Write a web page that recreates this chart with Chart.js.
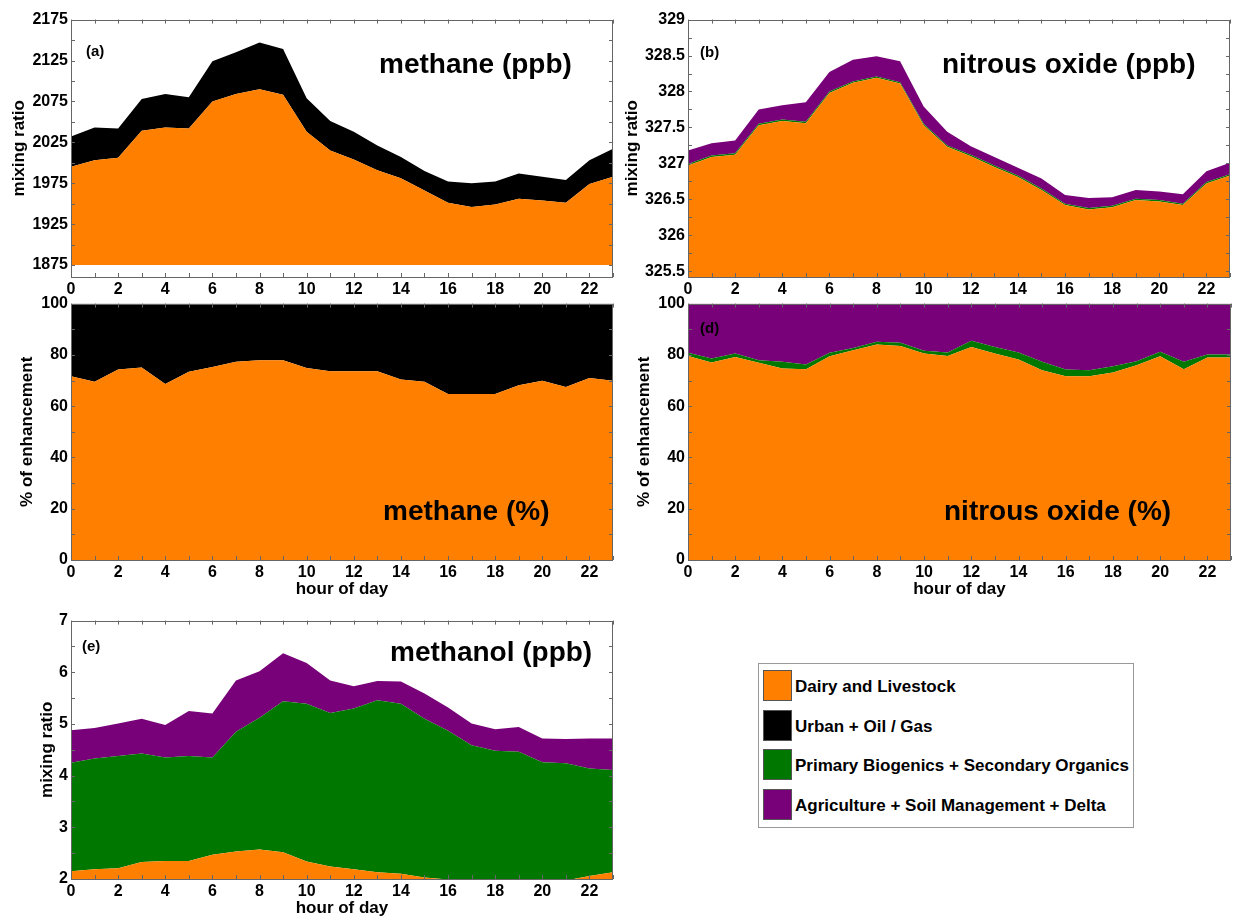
<!DOCTYPE html>
<html>
<head>
<meta charset="utf-8">
<script src="https://cdn.jsdelivr.net/npm/chart.js@4.4.1/dist/chart.umd.min.js"></script>
<style>
body { margin: 0; background: #fff; width: 1233px; height: 917px; position: relative; overflow: hidden;
       font-family: "Liberation Sans", Arial, sans-serif; }
canvas { position: absolute; }
.note { position: absolute; font-weight: bold; color: #000; white-space: nowrap; line-height: 1; }
.big { font-size: 28px; }
.tag { font-size: 15px; }
#legend { position: absolute; left: 758px; top: 663px; width: 374px; height: 163px; border: 1px solid #999; }
.sw { position: absolute; left: 4px; width: 27px; height: 29px; border: 1px solid #555; }
.lt { position: absolute; left: 36px; font-size: 17px; font-weight: bold; line-height: 1; }
</style>
</head>
<body>
<canvas id="pa"></canvas>
<canvas id="pb"></canvas>
<canvas id="pc"></canvas>
<canvas id="pd"></canvas>
<canvas id="pe"></canvas>

<div class="note tag" style="left:86px;top:43px">(a)</div>
<div class="note big" style="left:379px;top:50px">methane (ppb)</div>
<div class="note tag" style="left:700px;top:44px">(b)</div>
<div class="note big" style="left:942px;top:50px">nitrous oxide (ppb)</div>
<div class="note tag" style="left:82px;top:320px">(c)</div>
<div class="note big" style="left:383px;top:497px">methane (%)</div>
<div class="note tag" style="left:700px;top:320px">(d)</div>
<div class="note big" style="left:944px;top:497px">nitrous oxide (%)</div>
<div class="note tag" style="left:82px;top:638px">(e)</div>
<div class="note big" style="left:390px;top:638px">methanol (ppb)</div>

<div id="legend"></div>

<script>
// hour of day
const hours = [0, 1, 2, 3, 4, 5, 6, 7, 8, 9, 10, 11, 12, 13, 14, 15, 16, 17, 18, 19, 20, 21, 22, 23];
const hourTicks = [0, 2, 4, 6, 8, 10, 12, 14, 16, 18, 20, 22];

// source names and colours
const sources = ['Dairy and Livestock', 'Urban + Oil / Gas', 'Primary Biogenics + Secondary Organics', 'Agriculture + Soil Management + Delta'];
const colors = ['#ff8000', '#000000', '#007800', '#780078'];

// (a) methane, ppb (upper edge of each layer)
const ch4Dairy = [1995, 2003, 2006, 2039, 2043, 2042, 2075, 2084, 2090, 2083, 2038, 2015, 2004, 1991, 1981, 1966, 1951, 1946, 1949, 1956, 1954, 1951, 1974, 1983];
const ch4Total = [2032, 2043, 2042, 2078, 2084, 2080, 2124, 2135, 2147, 2139, 2079, 2051, 2038, 2021, 2007, 1990, 1977, 1975, 1977, 1987, 1983, 1979, 2003, 2017];
const ch4Ticks = [1875, 1925, 1975, 2025, 2075, 2125, 2175];

// (b) nitrous oxide, ppb
const n2oDairy = [326.97, 327.09, 327.12, 327.53, 327.59, 327.56, 327.98, 328.12, 328.19, 328.11, 327.53, 327.23, 327.10, 326.95, 326.81, 326.63, 326.42, 326.36, 326.39, 326.49, 326.47, 326.42, 326.72, 326.83];
const n2oBio = [326.99, 327.11, 327.14, 327.55, 327.61, 327.58, 328.00, 328.14, 328.21, 328.13, 327.55, 327.25, 327.12, 326.97, 326.83, 326.65, 326.44, 326.38, 326.41, 326.51, 326.49, 326.44, 326.74, 326.85];
const n2oTotal = [327.18, 327.28, 327.32, 327.75, 327.81, 327.85, 328.27, 328.44, 328.49, 328.42, 327.79, 327.44, 327.24, 327.09, 326.94, 326.79, 326.56, 326.52, 326.53, 326.63, 326.61, 326.57, 326.89, 327.01];
const n2oTicks = [325.5, 326, 326.5, 327, 327.5, 328, 328.5, 329];

// (c) methane, % of enhancement
const ch4PctDairy = [71.7, 69.5, 74.3, 75.1, 68.6, 73.4, 75.3, 77.3, 77.9, 77.9, 74.9, 73.6, 73.6, 73.6, 70.4, 69.5, 64.7, 64.7, 64.7, 68.2, 69.9, 67.5, 71.0, 69.9];

// (d) nitrous oxide, % of enhancement
const n2oPctDairy = [79.6, 77.0, 79.2, 76.9, 74.7, 74.4, 79.5, 81.8, 84.0, 83.5, 80.5, 79.6, 83.1, 80.5, 78.2, 74.0, 71.7, 71.7, 73.1, 76.0, 79.5, 74.4, 79.0, 79.0];
const n2oPctBio = [80.8, 78.6, 80.5, 77.9, 77.3, 76.2, 80.8, 82.7, 85.1, 84.7, 81.6, 80.9, 85.5, 83.1, 80.9, 77.3, 74.3, 74.0, 75.6, 77.5, 81.2, 77.3, 80.1, 80.1];
const pctTicks = [0, 20, 40, 60, 80, 100];

// (e) methanol, ppb
const meohDairy = [2.15, 2.19, 2.21, 2.33, 2.35, 2.35, 2.47, 2.53, 2.57, 2.52, 2.34, 2.24, 2.19, 2.13, 2.10, 2.03, 1.99, 1.97, 1.97, 1.99, 1.99, 1.97, 2.06, 2.13];
const meohBio = [4.25, 4.33, 4.38, 4.43, 4.35, 4.38, 4.35, 4.85, 5.12, 5.44, 5.39, 5.21, 5.30, 5.46, 5.39, 5.10, 4.87, 4.59, 4.48, 4.46, 4.26, 4.24, 4.14, 4.11];
const meohTotal = [4.88, 4.92, 5.01, 5.10, 4.98, 5.25, 5.20, 5.84, 6.02, 6.37, 6.18, 5.84, 5.73, 5.83, 5.82, 5.59, 5.32, 5.01, 4.90, 4.94, 4.72, 4.71, 4.72, 4.72];
const meohTicks = [2, 3, 4, 5, 6, 7];

Chart.defaults.font.family = '"Liberation Sans", Arial, sans-serif';
Chart.defaults.color = '#000';
const tickFont = { size: 16, weight: 'bold' };
const titleFont = { size: 17, weight: 'bold' };

// box with inward tick marks, matlab style
const frame = {
  id: 'frame',
  afterDatasetsDraw(chart, args, opts) {
    const { ctx, chartArea: a, scales: { x, y } } = chart;
    ctx.save();
    ctx.strokeStyle = '#666';
    ctx.lineWidth = 1;
    ctx.beginPath();
    hours.forEach(h => {
      const px = Math.round(x.getPixelForValue(h)) + 0.5;
      ctx.moveTo(px, a.bottom); ctx.lineTo(px, a.bottom - 4);
      ctx.moveTo(px, a.top); ctx.lineTo(px, a.top + 4);
    });
    const t = opts.yTicks;
    const marks = [];
    t.forEach((v, i) => { marks.push(v); if (i < t.length - 1) marks.push((v + t[i + 1]) / 2); });
    marks.forEach(v => {
      const py = Math.round(y.getPixelForValue(v)) + 0.5;
      if (py < a.top || py > a.bottom) return;
      ctx.moveTo(a.left, py); ctx.lineTo(a.left + 4, py);
      ctx.moveTo(a.right, py); ctx.lineTo(a.right - 4, py);
    });
    ctx.stroke();
    ctx.strokeRect(Math.round(a.left) + 0.5, Math.round(a.top) + 0.5, Math.round(a.right - a.left) - 1, Math.round(a.bottom - a.top));
    ctx.restore();
  }
};

function panel(id, box, yMin, yMax, yTicks, yTitle, yPad, showX, layers) {
  const cv = document.getElementById(id);
  const padT = 12, padR = 12, axW = 70, axH = 45;
  cv.style.left = (box[0] - axW) + 'px';
  cv.style.top = (box[1] - padT) + 'px';
  cv.width = box[2] - box[0] + axW + padR;
  cv.height = box[3] - box[1] + padT + axH;

  const datasets = layers.map(l => ({
    data: hours.map((h, i) => ({ x: h, y: l.data[i] })),
    backgroundColor: l.color,
    borderColor: 'rgba(0,0,0,0)',
    borderWidth: 0,
    pointRadius: 0,
    fill: l.fill,
    tension: 0
  }));

  new Chart(cv, {
    type: 'line',
    data: { datasets: datasets },
    options: {
      responsive: false,
      animation: false,
      devicePixelRatio: 1,
      layout: { padding: { top: padT, right: padR, left: 0, bottom: 0 } },
      plugins: { legend: { display: false }, tooltip: { enabled: false }, frame: { yTicks: yTicks } },
      scales: {
        x: {
          type: 'linear', min: 0, max: 23,
          afterBuildTicks: s => { s.ticks = hourTicks.map(v => ({ value: v })); },
          afterFit: s => { s.height = axH; },
          ticks: { padding: 3, maxRotation: 0, autoSkip: false, font: tickFont, callback: v => String(v) },
          grid: { display: false, drawTicks: false },
          border: { display: false },
          title: { display: showX, text: 'hour of day', font: titleFont, padding: { top: 0, bottom: 5 } }
        },
        y: {
          min: yMin, max: yMax,
          afterBuildTicks: s => { s.ticks = yTicks.map(v => ({ value: v })); },
          afterFit: s => { s.width = axW; },
          ticks: { padding: 3, autoSkip: false, font: tickFont, callback: v => String(v) },
          grid: { display: false, drawTicks: false },
          border: { display: false },
          title: { display: true, text: yTitle, font: titleFont, padding: { top: yPad, bottom: 0 } }
        }
      }
    },
    plugins: [frame]
  });
}

panel('pa', [71, 19, 613, 277], 1860.4, 2175, ch4Ticks, 'mixing ratio', 8, false, [
  { data: ch4Dairy, color: colors[0], fill: { value: 1875 } },
  { data: ch4Total, color: colors[1], fill: '-1' }
]);

panel('pb', [688, 19, 1230, 277], 325.42, 329, n2oTicks, 'mixing ratio', 4, false, [
  { data: n2oDairy, color: colors[0], fill: 'start' },
  { data: n2oBio, color: colors[2], fill: '-1' },
  { data: n2oTotal, color: colors[3], fill: '-1' }
]);

panel('pc', [71, 303, 613, 560], 0, 100, pctTicks, '% of enhancement', 16, true, [
  { data: ch4PctDairy, color: colors[0], fill: 'start' },
  { data: ch4PctDairy, color: colors[1], fill: 'end' }
]);

panel('pd', [688, 303, 1231, 560], 0, 100, pctTicks, '% of enhancement', 16, true, [
  { data: n2oPctDairy, color: colors[0], fill: 'start' },
  { data: n2oPctBio, color: colors[2], fill: '-1' },
  { data: n2oPctBio, color: colors[3], fill: 'end' }
]);

panel('pe', [71, 620, 613, 879], 2, 7, meohTicks, 'mixing ratio', 36, true, [
  { data: meohDairy, color: colors[0], fill: 'start' },
  { data: meohBio, color: colors[2], fill: '-1' },
  { data: meohTotal, color: colors[3], fill: '-1' }
]);

// legend box
const leg = document.getElementById('legend');
const rowTop = [6, 46, 85, 125];
sources.forEach((name, i) => {
  const sw = document.createElement('div');
  sw.className = 'sw';
  sw.style.top = rowTop[i] + 'px';
  sw.style.background = colors[i];
  leg.appendChild(sw);
  const tx = document.createElement('div');
  tx.className = 'lt';
  tx.style.top = (rowTop[i] + 8) + 'px';
  tx.textContent = name;
  leg.appendChild(tx);
});
</script>
</body>
</html>
